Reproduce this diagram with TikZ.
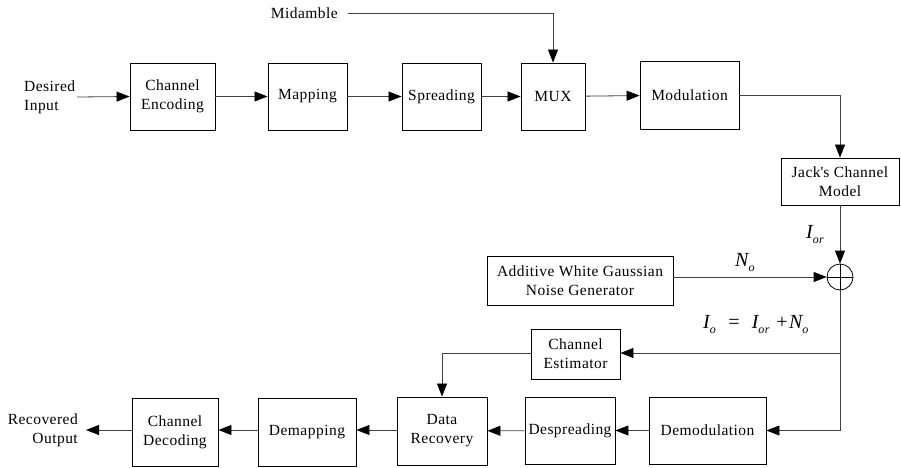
\documentclass[tikz,border=0pt]{standalone}
\usepackage{fontspec}
\setmainfont{Liberation Serif}[LetterSpace=3]
\usetikzlibrary{arrows.meta}
\newcommand{\lowsub}[1]{\raisebox{-5pt}{\fontsize{12}{12}\selectfont\itshape #1}}
\begin{document}
\begin{tikzpicture}[x=1pt,y=-1pt,
  font=\fontsize{15.5}{19}\selectfont,
  blk/.style={draw=black,line width=0.9pt,align=center,inner sep=1pt},
  conn/.style={draw=black!75,line width=0.8pt},
  arr/.style={conn,-{Triangle[length=13pt,width=10pt,color=black,fill=black]}},
  lbl/.style={inner sep=0pt},
  mathlbl/.style={inner sep=0pt,font=\fontsize{20}{22}\selectfont\itshape}]
\useasboundingbox (0,0) rectangle (901,467);

% transmitter chain
\node[blk,minimum width=85pt,minimum height=67pt] (enc) at (172.5,96.5) {Channel\\Encoding};
\node[blk,minimum width=79pt,minimum height=67pt] (map) at (307.5,96.5) {Mapping};
\node[blk,minimum width=79pt,minimum height=67pt] (spr) at (441.5,96.5) {Spreading};
\node[blk,minimum width=64pt,minimum height=67pt] (mux) at (553,96.5) {MUX};
\node[blk,minimum width=99pt,minimum height=68pt] (mod) at (689.5,95) {Modulation};

\node[lbl,anchor=west,align=left] (din) at (24,97) {Desired\\Input};
\node[lbl,anchor=east,inner xsep=10pt] (mid) at (348,13) {Midamble};

% channel
\node[blk,minimum width=118pt,minimum height=47pt] (jack) at (840,181.5) {Jack\textquotesingle s Channel\\Model};
\node[draw=black,line width=0.8pt,circle,minimum size=26pt,inner sep=0pt] (sum) at (840,277) {};
\draw[black,line width=0.8pt] (sum.north) -- (sum.south) (sum.west) -- (sum.east);
\node[blk,minimum width=186pt,minimum height=49pt] (awgn) at (580,280.5) {Additive White Gaussian\\Noise Generator};

% receiver chain
\node[blk,minimum width=89pt,minimum height=50pt] (est) at (575.5,354) {Channel\\Estimator};
\node[blk,minimum width=117pt,minimum height=67pt] (dem) at (707.5,430.5) {Demodulation};
\node[blk,minimum width=90pt,minimum height=67pt,inner sep=0pt] (desp) at (570,430.5) {Despreading};
\node[blk,minimum width=90pt,minimum height=68pt] (rec) at (442,431) {Data\\Recovery};
\node[blk,minimum width=98pt,minimum height=68pt] (demap) at (307,432) {Demapping};
\node[blk,minimum width=86pt,minimum height=68pt] (dec) at (175,432) {Channel\\Decoding};
\node[lbl,anchor=east,align=right] (rout) at (78,430) {Recovered\\Output};

% signal labels
\node[mathlbl,anchor=south west] (lor) at (806,244) {I\lowsub{or}};
\node[mathlbl,anchor=south west] (lno) at (735,272) {N\lowsub{o}};
\node[mathlbl,anchor=south west] (leq) at (703,334) {I\lowsub{o}\ \ =\ \ I\lowsub{or}\ +N\lowsub{o}};

% connectors
\draw[arr] (din.east -| 77,0) -- (enc.west);
\draw[arr] (enc) -- (map);
\draw[arr] (map) -- (spr);
\draw[arr] (spr) -- (mux);
\draw[arr] (mux) -- (mod);
\draw[arr] (mid.east) -| (mux.north);
\draw[arr] (mod.east) -| (jack.north);
\draw[arr] (jack.south) -- (sum.north);
\draw[arr] (awgn.east |- sum) -- (sum.west);
\coordinate (br) at (840,353);
\draw[arr] (sum.south) |- (dem.east);
\draw[arr] (br) -- (est.east |- br);
\draw[arr] (est.west |- br) -| (rec.north);
\draw[arr] (dem) -- (desp);
\draw[arr] (desp) -- (rec);
\draw[arr] (rec.west |- 0,430) -- (demap.east |- 0,430);
\draw[arr] (demap.west |- 0,430) -- (dec.east |- 0,430);
\draw[arr] (dec.west |- 0,430) -- (86,430);
\end{tikzpicture}
\end{document}
